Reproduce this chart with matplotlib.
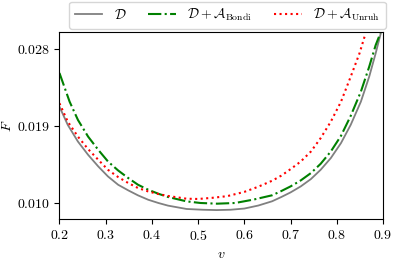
import matplotlib
matplotlib.use("Agg")
import matplotlib.pyplot as plt

plt.rcParams['mathtext.fontset'] = 'cm'
plt.rcParams['font.family'] = 'serif'
plt.rcParams['font.serif'] = ['cmr10', 'DejaVu Serif']
plt.rcParams['font.size'] = 10

# values
v_d = [0.200, 0.218, 0.240, 0.262, 0.284, 0.305, 0.327, 0.349, 0.370, 0.392,
       0.414, 0.435, 0.475, 0.510, 0.540, 0.570, 0.600, 0.630, 0.660, 0.680,
       0.700, 0.722, 0.744, 0.765, 0.787, 0.809, 0.830, 0.852, 0.870, 0.884,
       0.895]
f_d = [0.02126, 0.01913, 0.01718, 0.01563, 0.01427, 0.0131, 0.01213, 0.01147, 0.01089, 0.01038,
       0.0100, 0.00969, 0.0093, 0.00921, 0.00917, 0.00921, 0.00935, 0.0097, 0.0102, 0.0107,
       0.01124, 0.01194, 0.0128, 0.01388, 0.01525, 0.0170, 0.01913, 0.02184, 0.02476, 0.02749,
       0.02982]

v_bondi = [0.200, 0.222, 0.240, 0.262, 0.284, 0.305, 0.327, 0.349, 0.370, 0.392,
           0.414, 0.435, 0.475, 0.505, 0.541, 0.580, 0.620, 0.660, 0.680, 0.700,
           0.722, 0.744, 0.765, 0.787, 0.809, 0.830, 0.852, 0.870, 0.884, 0.894]
f_bondi = [0.0252, 0.02184, 0.01971, 0.01776, 0.01621, 0.01485, 0.0138, 0.01291, 0.01213, 0.01155,
           0.01108, 0.0107, 0.01019, 0.01000, 0.00992, 0.0100, 0.0104, 0.0109, 0.0114, 0.01194,
           0.01264, 0.0135, 0.01458, 0.01602, 0.01785, 0.02018, 0.02301, 0.02592, 0.02845, 0.02982]

v_unruh = [0.200, 0.218, 0.240, 0.262, 0.284, 0.305, 0.327, 0.349, 0.370, 0.392,
           0.414, 0.435, 0.475, 0.500, 0.530, 0.563, 0.600, 0.630, 0.660, 0.680,
           0.700, 0.722, 0.744, 0.765, 0.787, 0.809, 0.830, 0.849, 0.861]
f_unruh = [0.02166, 0.01951, 0.01776, 0.0163, 0.01505, 0.01388, 0.01303, 0.01233, 0.01175, 0.01135,
           0.01105, 0.01082, 0.0105, 0.01047, 0.0106, 0.0108, 0.0113, 0.0119, 0.0126, 0.0132,
           0.01396, 0.01485, 0.01602, 0.01758, 0.01951, 0.02184, 0.02476, 0.02749, 0.02962]

x_ticks = [0.2, 0.3, 0.4, 0.5, 0.6, 0.7, 0.8, 0.9]
y_ticks = [0.010, 0.019, 0.028]

fig = plt.figure(figsize=(3.99, 2.61), dpi=100)
ax = fig.add_axes([0.149, 0.160, 0.811, 0.716])

ax.plot(v_d, f_d, '-', color='gray', lw=1.3, label=r'$\mathcal{D}$')
ax.plot(v_bondi, f_bondi, '-.', color='green', lw=1.5, label=r'$\mathcal{D}+\mathcal{A}_{\rm Bondi}$')
ax.plot(v_unruh, f_unruh, ':', color='red', lw=1.5, label=r'$\mathcal{D}+\mathcal{A}_{\rm Unruh}$')

ax.set_xlim(0.2, 0.9)
ax.set_ylim(0.0081, 0.02995)
ax.set_xticks(x_ticks)
ax.set_xticklabels([f'${t:.1f}$' for t in x_ticks])
ax.set_yticks(y_ticks)
ax.set_yticklabels([f'${t:.3f}$' for t in y_ticks])
ax.set_xlabel(r'$v$')
ax.set_ylabel(r'$F$')
ax.yaxis.set_label_coords(-0.14, 0.5)

ax.legend(ncol=3, loc='lower right', bbox_to_anchor=(386 / 399, 1 - 29 / 261),
          bbox_transform=fig.transFigure, borderaxespad=0, fontsize=10,
          handlelength=2.0, columnspacing=1.6)

fig.savefig('out.png', dpi=100)
